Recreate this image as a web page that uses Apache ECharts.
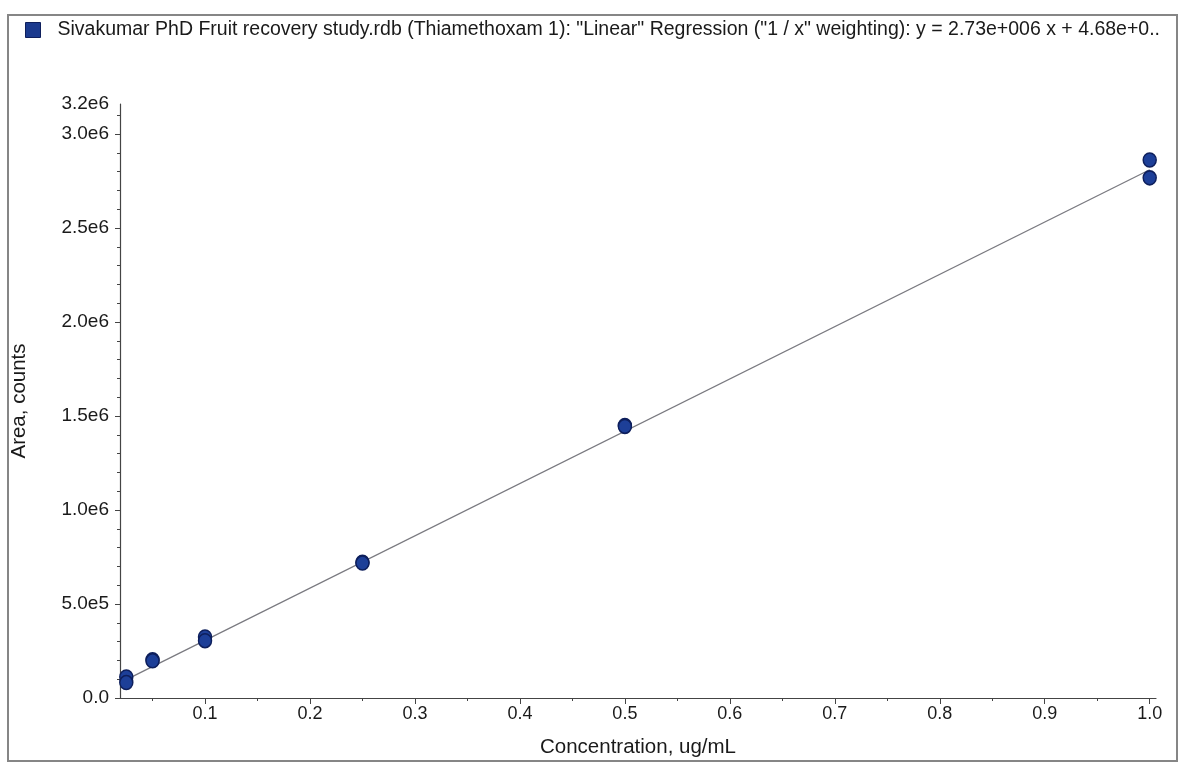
<!DOCTYPE html>
<html>
<head>
<meta charset="utf-8">
<script src="https://cdn.jsdelivr.net/npm/echarts@6/dist/echarts.min.js"></script>
<style>
  html, body { margin: 0; padding: 0; background: #ffffff; }
  #chart { position: absolute; left: 0; top: 0; width: 1181px; height: 763px; }
  #frame { position: absolute; left: 7px; top: 14px; width: 1167px; height: 744px;
           border: 2px solid #868686; pointer-events: none; }
</style>
</head>
<body>
<div id="chart"></div>
<div id="frame"></div>
<script>
// ---- data ----
const seriesName = 'Sivakumar PhD Fruit recovery study.rdb (Thiamethoxam 1): "Linear" Regression ("1 / x" weighting): y = 2.73e+006 x + 4.68e+0..';
const concX = [0.025, 0.025, 0.05, 0.05, 0.1, 0.1, 0.25, 0.25, 0.5, 0.5, 1.0, 1.0];
const areaY = [112000, 82000, 203000, 198000, 325000, 305000, 722000, 718000, 1450000, 1445000, 2862000, 2767000];
const fitX = [0.025, 1.0];
const fitY = [98000, 2810000];
const xMajorTicks = [0.1, 0.2, 0.3, 0.4, 0.5, 0.6, 0.7, 0.8, 0.9, 1.0];
const xMinorTicks = [0.05, 0.15, 0.25, 0.35, 0.45, 0.55, 0.65, 0.75, 0.85, 0.95];
const yMajorTicks = [0, 500000, 1000000, 1500000, 2000000, 2500000, 3000000];
const yLabelTicks = [0, 500000, 1000000, 1500000, 2000000, 2500000, 3000000, 3160000];
const yMinorTicks = [100000, 200000, 300000, 400000, 600000, 700000, 800000, 900000,
  1100000, 1200000, 1300000, 1400000, 1600000, 1700000, 1800000, 1900000,
  2100000, 2200000, 2300000, 2400000, 2600000, 2700000, 2800000, 2900000, 3100000];
const xMin = 0.019, xMax = 1.006;
const yMin = 0, yMax = 3160000;

const font = 'Liberation Sans, Arial, sans-serif';
const axisColor = '#444';
const textColor = '#1a1a1a';

function fmtY(v) {
  if (v === 0) return '0.0';
  return v.toExponential(1).replace('e+', 'e');
}

const chart = echarts.init(document.getElementById('chart'), null, { renderer: 'canvas' });
chart.setOption({
  backgroundColor: '#ffffff',
  animation: false,
  legend: {
    left: 20, top: 15,
    icon: 'rect', itemWidth: 15, itemHeight: 15, itemGap: 10,
    itemStyle: { color: '#1b3a8e', borderColor: '#0e1f5c', borderWidth: 1, opacity: 1 },
    textStyle: { fontFamily: font, fontSize: 19.5, color: textColor, padding: [0, 0, 0, 12] },
    data: [seriesName]
  },
  grid: { left: 120, right: 25, top: 104, bottom: 63 },
  xAxis: [
    {
      type: 'value', min: xMin, max: xMax, position: 'bottom',
      name: 'Concentration, ug/mL', nameLocation: 'middle', nameGap: 39,
      nameTextStyle: { fontFamily: font, fontSize: 20.5, color: textColor },
      axisLine: { show: true, lineStyle: { color: axisColor, width: 1.2 } },
      axisTick: { show: true, length: 6, customValues: xMajorTicks, lineStyle: { color: axisColor } },
      axisLabel: { customValues: xMajorTicks, margin: 7, fontFamily: font, fontSize: 18, color: textColor,
                   formatter: v => v.toFixed(1) },
      splitLine: { show: false }
    },
    {
      type: 'value', min: xMin, max: xMax, position: 'bottom', gridIndex: 0,
      axisLine: { show: false },
      axisTick: { show: true, length: 3, customValues: xMinorTicks, lineStyle: { color: axisColor } },
      axisLabel: { show: false },
      splitLine: { show: false }
    }
  ],
  yAxis: [
    {
      type: 'value', min: yMin, max: yMax, position: 'left',
      name: 'Area, counts', nameLocation: 'middle', nameGap: 90, nameRotate: 90,
      nameTextStyle: { fontFamily: font, fontSize: 20.5, color: textColor },
      axisLine: { show: true, lineStyle: { color: axisColor, width: 1.2 } },
      axisTick: { show: true, length: 5, customValues: yMajorTicks, lineStyle: { color: axisColor } },
      axisLabel: { customValues: yLabelTicks, margin: 11, fontFamily: font, fontSize: 19, color: textColor,
                   formatter: fmtY },
      splitLine: { show: false }
    },
    {
      type: 'value', min: yMin, max: yMax, position: 'left',
      axisLine: { show: false },
      axisTick: { show: true, length: 3, customValues: yMinorTicks, lineStyle: { color: axisColor } },
      axisLabel: { show: false },
      splitLine: { show: false }
    }
  ],
  series: [
    {
      name: 'fit', type: 'line', xAxisIndex: 0, yAxisIndex: 0,
      data: fitX.map((x, i) => [x, fitY[i]]),
      showSymbol: false, symbol: 'none',
      lineStyle: { color: '#7a7a80', width: 1.3 },
      z: 1, silent: true
    },
    {
      name: seriesName, type: 'scatter', xAxisIndex: 0, yAxisIndex: 0,
      data: concX.map((x, i) => [x, areaY[i]]),
      symbol: 'circle', symbolSize: [13, 14],
      itemStyle: { color: '#1d3f98', borderColor: '#0e1f5c', borderWidth: 1.5, opacity: 1 },
      z: 3
    }
  ]
});
</script>
</body>
</html>
